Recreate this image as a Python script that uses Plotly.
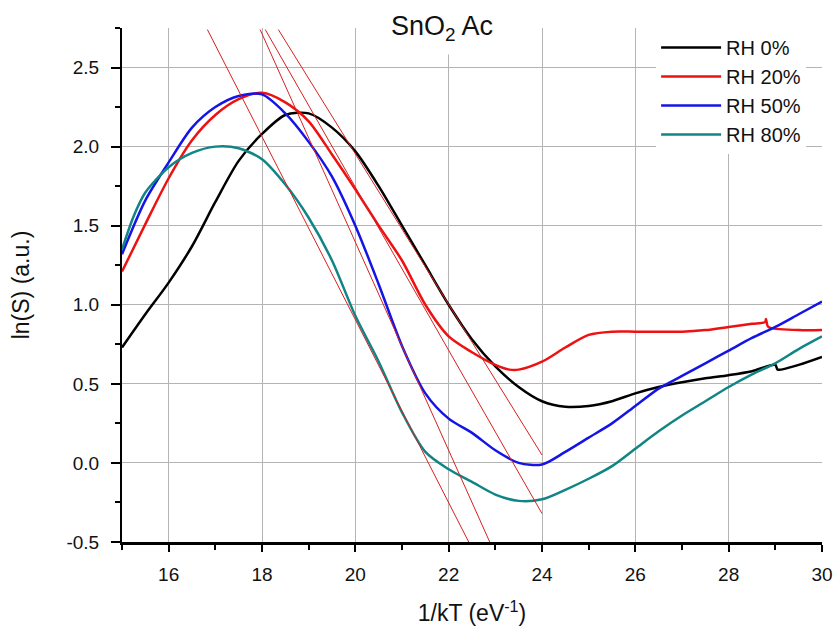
import plotly.graph_objects as go

# ---- data ----
rh0_x = [15, 15.5, 16, 16.5, 17, 17.5, 18, 18.5, 19, 19.5, 20, 20.5, 21, 21.5, 22, 22.5, 23, 23.5, 24,
         24.5, 25, 25.5, 26, 26.5, 27, 27.5, 28, 28.5, 29.0, 29.05, 29.5, 30]
rh0_y = [0.73, 0.94, 1.14, 1.37, 1.65, 1.91, 2.08, 2.20, 2.21, 2.12, 1.97, 1.75, 1.50, 1.25, 1.00, 0.78, 0.61,
         0.48, 0.39, 0.355, 0.36, 0.39, 0.44, 0.48, 0.51, 0.535, 0.555, 0.58, 0.62, 0.59, 0.62, 0.67]

rh20_x = [15, 15.5, 16, 16.5, 17, 17.5, 18, 18.5, 19, 19.5, 20, 20.5, 21, 21.5, 22, 22.5, 23, 23.3, 23.5, 24,
          24.5, 25, 25.5, 26, 26.5, 27, 27.5, 28, 28.5, 28.78, 28.8, 28.85, 29.5, 30]
rh20_y = [1.21, 1.51, 1.80, 2.04, 2.20, 2.30, 2.34, 2.28, 2.16, 1.95, 1.73, 1.50, 1.28, 1.00, 0.80, 0.70, 0.62,
          0.59, 0.59, 0.64, 0.73, 0.81, 0.83, 0.83, 0.83, 0.83, 0.84, 0.86, 0.88, 0.89, 0.91, 0.86, 0.84, 0.84]

rh50_x = [15, 15.5, 16, 16.5, 17, 17.5, 18, 18.5, 19, 19.5, 20, 20.5, 21, 21.5, 22, 22.5, 23, 23.5, 24,
          24.5, 25, 25.5, 26, 26.5, 27, 27.5, 28, 28.5, 29, 29.5, 30]
rh50_y = [1.32, 1.66, 1.90, 2.12, 2.25, 2.32, 2.33, 2.21, 2.03, 1.81, 1.50, 1.13, 0.74, 0.44, 0.28, 0.19, 0.08,
          0.00, -0.01, 0.07, 0.16, 0.25, 0.36, 0.47, 0.55, 0.63, 0.71, 0.79, 0.86, 0.94, 1.02]

rh80_x = [15, 15.25, 15.5, 16, 16.5, 17, 17.5, 18, 18.5, 19, 19.5, 20, 20.5, 21, 21.5, 22, 22.5, 23, 23.5, 24,
          24.5, 25, 25.5, 26, 26.5, 27, 27.5, 28, 28.5, 29, 29.5, 30]
rh80_y = [1.35, 1.56, 1.71, 1.87, 1.96, 2.00, 1.99, 1.92, 1.76, 1.55, 1.28, 0.93, 0.64, 0.32, 0.07, -0.04, -0.12,
          -0.20, -0.24, -0.23, -0.17, -0.10, -0.02, 0.09, 0.20, 0.30, 0.39, 0.48, 0.56, 0.63, 0.72, 0.80]

series_names = ["RH 0%", "RH 20%", "RH 50%", "RH 80%"]
series_colors = ["#000000", "#ee1111", "#1414e6", "#118585"]

# linear fit lines (start/end points in data units)
fit_x0 = [16.83, 17.96, 18.07, 18.35]
fit_y0 = [2.74, 2.74, 2.74, 2.74]
fit_x1 = [22.43, 22.88, 24.0, 24.0]
fit_y1 = [-0.5, -0.5, -0.32, 0.05]

# tick labels
x_tickvals = [16, 18, 20, 22, 24, 26, 28, 30]
x_ticktext = ["16", "18", "20", "22", "24", "26", "28", "30"]
y_tickvals = [-0.5, 0.0, 0.5, 1.0, 1.5, 2.0, 2.5]
y_ticktext = ["-0.5", "0.0", "0.5", "1.0", "1.5", "2.0", "2.5"]

FONT = "Liberation Sans, Arial, sans-serif"

fig = go.Figure()
for xs, ys, name, col in zip([rh0_x, rh20_x, rh50_x, rh80_x], [rh0_y, rh20_y, rh50_y, rh80_y],
                             series_names, series_colors):
    fig.add_trace(go.Scatter(x=xs, y=ys, mode="lines", name=name,
                             line=dict(color=col, width=2.5, shape="spline", smoothing=0.8)))

for a, b, c, d in zip(fit_x0, fit_y0, fit_x1, fit_y1):
    fig.add_trace(go.Scatter(x=[a, c], y=[b, d], mode="lines", showlegend=False,
                             line=dict(color="#d82020", width=1)))

fig.update_layout(
    width=833, height=635,
    margin=dict(l=122, r=11, t=28, b=93),
    paper_bgcolor="white", plot_bgcolor="white",
    font=dict(family=FONT, size=18, color="#111111"),
    legend=dict(x=0.763, y=1.0, xanchor="left", yanchor="top", bgcolor="white",
                font=dict(family=FONT, size=20, color="#111111"),
                itemwidth=60, tracegroupgap=0, borderwidth=0),
    annotations=[dict(text="SnO<sub>2</sub> Ac",
                      xref="paper", yref="paper", x=0.457, y=1.0,
                      xanchor="center", yanchor="middle", showarrow=False, bgcolor="white",
                      borderpad=9, font=dict(family=FONT, size=27, color="#111111"))],
)

fig.update_xaxes(range=[15, 30], tickmode="array", tickvals=x_tickvals, ticktext=x_ticktext,
                 automargin=False,
                 showline=True, linecolor="black", linewidth=3, mirror=False,
                 ticks="outside", ticklen=7, tickwidth=1.5, tickcolor="black",
                 minor=dict(tickmode="linear", tick0=15, dtick=1, ticks="outside", ticklen=5,
                            tickwidth=1.5, tickcolor="black", showgrid=False),
                 showgrid=True, gridcolor="#b4b4b4", gridwidth=1.2, zeroline=False,
                 tickfont=dict(family=FONT, size=19), ticklabelstandoff=6,
                 title=dict(text="1/kT (eV<sup>-1</sup>)", font=dict(family=FONT, size=23), standoff=22))
fig.update_yaxes(range=[-0.5, 2.75], tickmode="array", tickvals=y_tickvals, ticktext=y_ticktext,
                 automargin=False,
                 showline=True, linecolor="black", linewidth=2, mirror=False,
                 ticks="outside", ticklen=9, tickwidth=1.5, tickcolor="black",
                 minor=dict(tickmode="linear", tick0=-0.25, dtick=0.5, ticks="outside", ticklen=5,
                            tickwidth=1.5, tickcolor="black", showgrid=False),
                 showgrid=True, gridcolor="#b4b4b4", gridwidth=1.2, zeroline=False,
                 tickfont=dict(family=FONT, size=19), ticklabelstandoff=8,
                 title=dict(text="ln(S) (a.u.)", font=dict(family=FONT, size=23), standoff=30))

fig.write_html("out.html")
